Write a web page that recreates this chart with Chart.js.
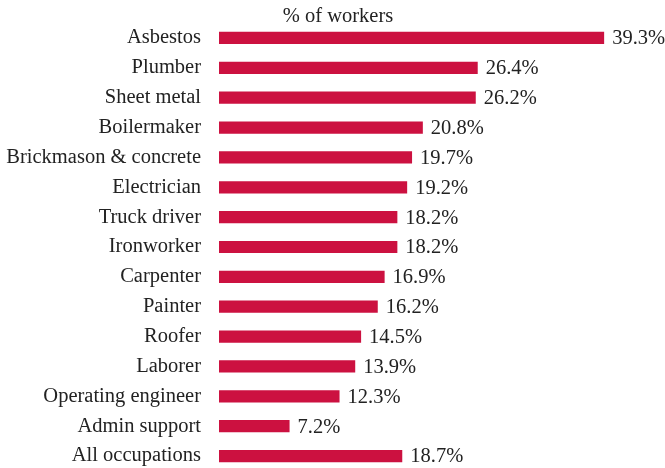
<!DOCTYPE html>
<html>
<head>
<meta charset="utf-8">
<script src="https://cdn.jsdelivr.net/npm/chart.js@4"></script>
<style>
  html, body { margin: 0; padding: 0; background: #fff; overflow: hidden; }
  canvas { display: block; }
</style>
</head>
<body>
<canvas id="c" width="665" height="474" style="width:665px;height:474px;"></canvas>
<script>
const categories = ["Asbestos", "Plumber", "Sheet metal", "Boilermaker", "Brickmason & concrete", "Electrician", "Truck driver", "Ironworker", "Carpenter", "Painter", "Roofer", "Laborer", "Operating engineer", "Admin support", "All occupations"];
const values = [39.3, 26.4, 26.2, 20.8, 19.7, 19.2, 18.2, 18.2, 16.9, 16.2, 14.5, 13.9, 12.3, 7.2, 18.7];
const valueLabels = ["39.3%", "26.4%", "26.2%", "20.8%", "19.7%", "19.2%", "18.2%", "18.2%", "16.9%", "16.2%", "14.5%", "13.9%", "12.3%", "7.2%", "18.7%"];
const titleText = "% of workers";

const FONT = "'Liberation Serif', 'Times New Roman', serif";
const TEXT = "#222222";
const FSIZE = 20.5;

const labelsPlugin = {
  id: 'valueLabels',
  afterDatasetsDraw(chart) {
    const ctx = chart.ctx;
    const meta = chart.getDatasetMeta(0);
    ctx.save();
    ctx.font = FSIZE + "px " + FONT;
    ctx.fillStyle = TEXT;
    ctx.textAlign = 'left';
    ctx.textBaseline = 'middle';
    meta.data.forEach((bar, i) => {
      ctx.fillText(valueLabels[i], bar.x + 8, bar.y + 1);
    });
    ctx.restore();
  }
};

const titlePlugin = {
  id: 'topTitle',
  afterDraw(chart) {
    const ctx = chart.ctx;
    ctx.save();
    ctx.font = FSIZE + "px " + FONT;
    ctx.fillStyle = TEXT;
    ctx.textAlign = 'center';
    ctx.textBaseline = 'middle';
    ctx.fillText(titleText, 338, 17);
    ctx.restore();
  }
};

new Chart(document.getElementById('c'), {
  type: 'bar',
  data: {
    labels: categories,
    datasets: [{
      data: values,
      backgroundColor: '#CC1140',
      borderWidth: 0,
      categoryPercentage: 1.0,
      barPercentage: 0.41
    }]
  },
  plugins: [labelsPlugin, titlePlugin],
  options: {
    indexAxis: 'y',
    responsive: false,
    maintainAspectRatio: false,
    animation: false,
    devicePixelRatio: 1,
    layout: { padding: { top: 23, bottom: 3, right: 5, left: 0 } },
    plugins: {
      legend: { display: false },
      tooltip: { enabled: false },
      title: { display: false }
    },
    scales: {
      x: {
        display: false,
        min: 0,
        max: 45
      },
      y: {
        grid: { display: false, drawTicks: false },
        border: { display: false },
        ticks: {
          color: TEXT,
          font: { family: FONT, size: FSIZE },
          padding: 18,
          autoSkip: false
        },
        afterFit(scale) {
          scale.width = 219;
          scale.paddingTop = 0;
          scale.paddingBottom = 0;
        }
      }
    }
  }
});
</script>
</body>
</html>
